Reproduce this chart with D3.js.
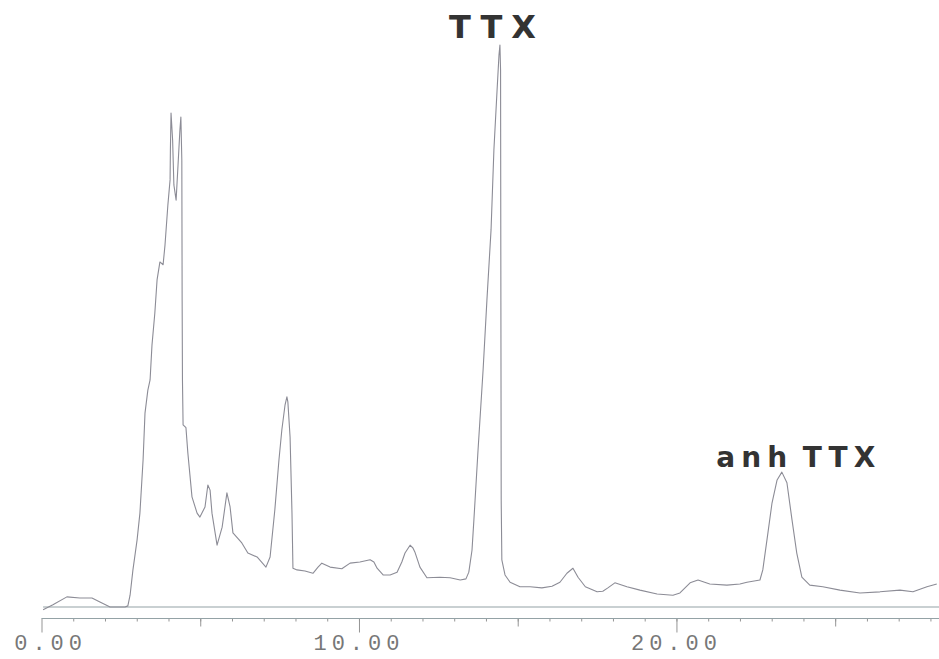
<!DOCTYPE html>
<html>
<head>
<meta charset="utf-8">
<script src="https://d3js.org/d3.v7.min.js"></script>
<style>
  * { margin: 0; padding: 0; box-sizing: border-box; }
  html, body { width: 939px; height: 659px; overflow: hidden; background: #fff; }
  svg { display: block; }
</style>
</head>
<body>
<div id="chart"></div>
<script>
// retention time (min) and detector response (relative, TTX peak = 100)
const times = [
  0.05, 0.36, 0.80, 1.21, 1.59, 1.84, 2.16, 2.63, 2.72, 2.79, 2.88, 3.01, 3.10, 3.20, 3.26, 3.35,
  3.42, 3.48, 3.57, 3.64, 3.73, 3.83, 3.89, 3.98, 4.05, 4.06, 4.08, 4.13, 4.17, 4.24, 4.30, 4.36,
  4.39, 4.42, 4.43, 4.44, 4.46, 4.55, 4.61, 4.74, 4.90, 4.99, 5.15, 5.24, 5.31, 5.37, 5.53, 5.69,
  5.84, 5.94, 6.03, 6.31, 6.50, 6.79, 7.07, 7.20, 7.35, 7.48, 7.57, 7.67, 7.73, 7.76, 7.83, 7.89,
  7.92, 8.05, 8.30, 8.55, 8.71, 8.83, 9.09, 9.46, 9.72, 10.03, 10.35, 10.47, 10.57, 10.76, 10.98, 11.20,
  11.35, 11.45, 11.61, 11.70, 11.76, 11.92, 12.14, 12.55, 12.87, 13.19, 13.37, 13.46, 13.56, 13.62, 13.75, 13.91,
  14.03, 14.16, 14.25, 14.35, 14.41, 14.44, 14.46, 14.47, 14.48, 14.50, 14.60, 14.76, 15.07, 15.39, 15.76, 16.08,
  16.33, 16.55, 16.74, 16.90, 17.13, 17.50, 17.68, 17.84, 18.06, 18.44, 18.85, 19.39, 19.89, 20.11, 20.43, 20.68,
  21.05, 21.59, 22.00, 22.22, 22.63, 22.72, 22.85, 23.01, 23.17, 23.32, 23.48, 23.64, 23.79, 23.95, 24.20, 24.61,
  25.15, 25.78, 26.41, 27.04, 27.45, 27.89, 28.20
];
const response = [
  -0.5, 0.4, 1.8, 1.6, 1.6, 0.9, 0.0, 0.0, 0.2, 2.1, 6.6, 11.9, 16.7, 26.2, 34.5, 38.6,
  40.4, 46.6, 52.3, 58.2, 61.4, 60.9, 64.4, 71.5, 76.0, 81.3, 87.9, 83.1, 75.1, 72.4, 78.6, 84.9,
  87.2, 79.5, 54.6, 40.4, 32.4, 31.9, 27.4, 19.6, 16.7, 16.0, 17.8, 21.7, 20.8, 16.7, 11.0, 14.2,
  20.3, 17.8, 13.2, 11.4, 9.6, 8.9, 7.1, 8.9, 17.3, 26.2, 31.5, 35.9, 37.4, 36.5, 30.2, 16.7,
  6.9, 6.6, 6.4, 6.0, 7.1, 7.8, 7.1, 6.8, 7.8, 8.0, 8.4, 8.0, 6.9, 5.7, 5.7, 6.2,
  8.0, 9.6, 11.0, 10.5, 9.8, 7.1, 5.2, 5.3, 5.2, 4.8, 5.0, 6.2, 10.1, 15.5, 27.9, 42.2,
  54.6, 67.1, 81.3, 92.0, 98.2, 100.0, 95.6, 54.6, 19.0, 8.4, 5.7, 4.4, 3.6, 3.6, 3.4, 3.7,
  4.4, 6.0, 6.9, 5.3, 3.6, 2.7, 2.8, 3.4, 4.3, 3.6, 3.0, 2.3, 2.1, 2.5, 4.3, 4.8,
  4.1, 3.9, 4.1, 4.4, 4.8, 6.6, 11.9, 18.5, 22.6, 24.0, 22.1, 15.5, 9.6, 5.3, 3.9, 3.6,
  3.0, 2.5, 2.7, 3.0, 2.7, 3.6, 4.1
];
const majorTicks = [0, 10, 20];
const minorTicks = [5, 15, 25];
const tickLabels = ['0.00', '10.00', '20.00'];
const peakNames = ['TTX', 'anh TTX'];
const peakTimes = [14.44, 23.32];
const peakHeights = [100, 24.0];

const width = 939, height = 659;
const x = d3.scaleLinear().domain([0, 28.27]).range([41.5, 939]);
const y = d3.scaleLinear().domain([0, 100]).range([607, 45]);
const axisY = 618.5;

const svg = d3.select('#chart').append('svg')
  .attr('width', width).attr('height', height);

// zero line of the detector
svg.append('line')
  .attr('x1', x(0.05)).attr('x2', x(28.27))
  .attr('y1', y(0)).attr('y2', y(0))
  .attr('stroke', '#94a2a6').attr('stroke-width', 1.2);

// time axis: tiny 1-min ticks, medium 5-min, long 10-min
const axisG = svg.append('g').attr('transform', `translate(0,${axisY})`);
axisG.call(d3.axisBottom(x).tickValues(d3.range(1, 29)).tickSize(3).tickFormat(''))
  .call(g => g.select('.domain').remove());
axisG.append('g')
  .call(d3.axisBottom(x).tickValues(minorTicks).tickSize(8).tickFormat(''))
  .call(g => g.select('.domain').remove());
axisG.append('g')
  .call(d3.axisBottom(x).tickValues(majorTicks).tickSize(14).tickFormat(''))
  .call(g => g.select('.domain').remove());
axisG.selectAll('.tick line').attr('stroke', '#959595').attr('stroke-width', 1);
axisG.append('line')
  .attr('x1', x(0)).attr('x2', width)
  .attr('stroke', '#94a2a6').attr('stroke-width', 1.2);

// labels are centred on the decimal point
const fs = 22, ls = 5;
const adv = fs * 0.6 + ls;
svg.append('g').selectAll('text')
  .data(majorTicks)
  .join('text')
  .attr('x', (d, i) => x(d) - (tickLabels[i].indexOf('.') + 0.5) * adv)
  .attr('y', 650)
  .attr('font-family', '"Liberation Mono", "DejaVu Sans Mono", monospace')
  .attr('font-size', fs)
  .attr('letter-spacing', ls)
  .attr('fill', '#777')
  .text((d, i) => tickLabels[i]);

const line = d3.line()
  .x((d, i) => x(times[i]))
  .y(d => y(d));

svg.append('path')
  .datum(response)
  .attr('d', line)
  .attr('fill', 'none')
  .attr('stroke', '#8c8c96')
  .attr('stroke-width', 1.1)
  .attr('stroke-linejoin', 'round');

// peak annotations
const labelFont = [32, 28];
const labelGap = [7, 5];
const labelShift = [-3, 17];
const labelSpacing = [9, 6];
svg.append('g').selectAll('text')
  .data(peakNames)
  .join('text')
  .attr('x', (d, i) => x(peakTimes[i]) + labelShift[i])
  .attr('y', (d, i) => y(peakHeights[i]) - labelGap[i])
  .attr('text-anchor', 'middle')
  .attr('font-family', '"DejaVu Sans", sans-serif')
  .attr('font-weight', 'bold')
  .attr('font-size', (d, i) => labelFont[i])
  .attr('letter-spacing', (d, i) => labelSpacing[i])
  .attr('word-spacing', -6)
  .attr('fill', '#333')
  .text(d => d);
</script>
</body>
</html>
